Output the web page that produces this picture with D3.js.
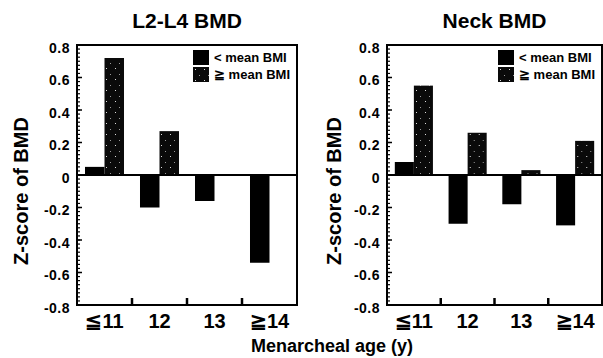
<!DOCTYPE html>
<html>
<head>
<meta charset="utf-8">
<script src="https://cdn.jsdelivr.net/npm/d3@7"></script>
<style>
  body { margin: 0; background: #fff; }
  text { font-family: "Liberation Sans", Arial, sans-serif; font-weight: bold; fill: #000; }
</style>
</head>
<body>
<div id="chart"></div>
<script>
var categories = ["\u226611", "12", "13", "\u226714"];
var series = ["< mean BMI", "\u2267 mean BMI"];
var yTicks = [0.8, 0.6, 0.4, 0.2, 0, -0.2, -0.4, -0.6, -0.8];
var yTickLabels = ["0.8", "0.6", "0.4", "0.2", "0", "-0.2", "-0.4", "-0.6", "-0.8"];

var lumbarBelow = [0.05, -0.20, -0.16, -0.54];
var lumbarAbove = [0.72, 0.27, 0.00, 0.00];
var neckBelow = [0.08, -0.30, -0.18, -0.31];
var neckAbove = [0.55, 0.26, 0.03, 0.21];

var svg = d3.select("#chart").append("svg")
  .attr("width", 603).attr("height", 358);

// stippled fill for the >= mean bars
var defs = svg.append("defs");
var pat = defs.append("pattern")
  .attr("id", "speckle").attr("patternUnits", "userSpaceOnUse")
  .attr("width", 9).attr("height", 11);
pat.append("rect").attr("width", 9).attr("height", 11).attr("fill", "#0a0a0a");
pat.append("rect").attr("x", 2).attr("y", 2).attr("width", 1).attr("height", 1).attr("fill", "#ddd");
pat.append("rect").attr("x", 6).attr("y", 8).attr("width", 1).attr("height", 1).attr("fill", "#999");

var fills = ["#000", "url(#speckle)"];

function drawPanel(title, below, above, left, right, ylabX) {
  var top = 45, bottom = 305;
  var y = d3.scaleLinear().domain([-0.8, 0.8]).range([bottom, top]);
  var x0 = d3.scaleBand().domain(categories).range([left, right]).padding(0);
  var x1 = d3.scaleBand().domain(series).range([0, x0.bandwidth()]).paddingOuter(0.41);
  var g = svg.append("g");

  g.append("text").attr("x", (left + right) / 2).attr("y", 28)
    .attr("text-anchor", "middle").style("font-size", "21px").text(title);

  // bars
  var rows = categories.map(function(c, i) { return { cat: c, vals: [below[i], above[i]] }; });
  var grp = g.selectAll(".grp").data(rows).enter().append("g")
    .attr("transform", function(d) { return "translate(" + x0(d.cat) + ",0)"; });
  grp.selectAll("rect").data(function(d) { return d.vals.map(function(v, j) { return { s: series[j], v: v, j: j }; }); })
    .enter().append("rect")
    .attr("x", function(d) { return x1(d.s); })
    .attr("width", x1.bandwidth())
    .attr("y", function(d) { return y(Math.max(0, d.v)); })
    .attr("height", function(d) { return Math.abs(y(d.v) - y(0)); })
    .attr("fill", function(d) { return fills[d.j]; });

  // zero line
  g.append("line").attr("x1", left).attr("x2", right).attr("y1", y(0)).attr("y2", y(0))
    .attr("stroke", "#000").attr("stroke-width", 2);

  // frame
  g.append("rect").attr("x", left).attr("y", top).attr("width", right - left).attr("height", bottom - top)
    .attr("fill", "none").attr("stroke", "#000").attr("stroke-width", 2);

  // minor and major ticks along the left axis
  var minor = d3.range(-0.8, 0.8001, 0.025);
  g.selectAll(".mt").data(minor).enter().append("line")
    .attr("x1", left).attr("x2", left + 3)
    .attr("y1", function(d) { return y(d); }).attr("y2", function(d) { return y(d); })
    .attr("stroke", "#000").attr("stroke-width", 1.2);
  g.selectAll(".Mt").data(yTicks).enter().append("line")
    .attr("x1", left).attr("x2", left + 5)
    .attr("y1", function(d) { return y(d); }).attr("y2", function(d) { return y(d); })
    .attr("stroke", "#000").attr("stroke-width", 1.5);
  g.selectAll(".yl").data(yTicks).enter().append("text")
    .attr("x", left - 7).attr("y", function(d) { return y(d) + 4; })
    .attr("text-anchor", "end").attr("dominant-baseline", "middle")
    .style("font-size", "14px").style("letter-spacing", "0.5px")
    .text(function(d, i) { return yTickLabels[i]; });

  // bottom ticks at group boundaries
  var bounds = categories.slice(1).map(function(c) { return x0(c); });
  g.selectAll(".bt").data(bounds).enter().append("line")
    .attr("x1", function(d) { return d; }).attr("x2", function(d) { return d; })
    .attr("y1", bottom).attr("y2", bottom - 7)
    .attr("stroke", "#000").attr("stroke-width", 2.5);

  g.selectAll(".xl").data(categories).enter().append("text")
    .attr("x", function(d) { return x0(d) + x0.bandwidth() / 2; })
    .attr("y", 328).attr("text-anchor", "middle")
    .style("font-size", "20px").text(function(d) { return d; });

  // y axis title
  g.append("text")
    .attr("transform", "translate(" + (ylabX + 7) + "," + 191 + ") rotate(-90)")
    .attr("text-anchor", "middle").style("font-size", "20px")
    .text("Z-score of BMD");

  // legend
  var leg = g.selectAll(".lg").data(series).enter().append("g")
    .attr("transform", function(d, i) { return "translate(" + (right - 104) + "," + (50 + i * 17) + ")"; });
  leg.append("rect").attr("width", 16).attr("height", 15)
    .attr("fill", function(d, i) { return fills[i]; });
  leg.append("text").attr("x", 21).attr("y", 12).style("font-size", "13px")
    .text(function(d) { return d; });
}

drawPanel("L2-L4 BMD", lumbarBelow, lumbarAbove, 77, 297, 21);
drawPanel("Neck BMD", neckBelow, neckAbove, 387, 602, 334);

svg.append("text").attr("x", 332).attr("y", 352).attr("text-anchor", "middle")
  .style("font-size", "18px").text("Menarcheal age (y)");
</script>
</body>
</html>
